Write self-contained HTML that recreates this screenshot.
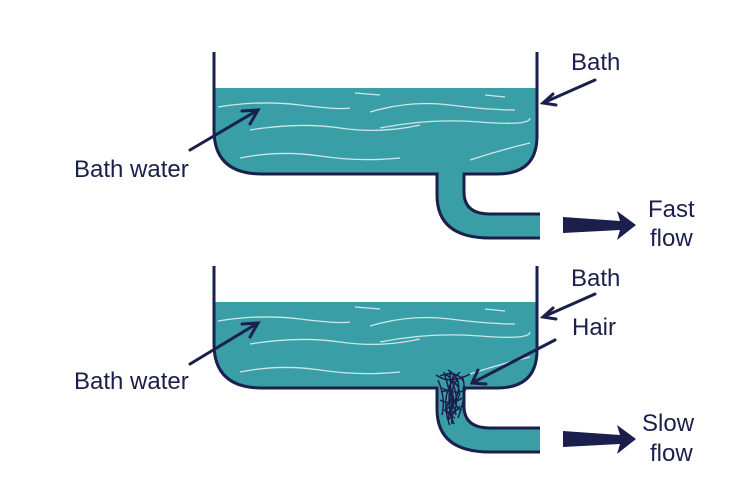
<!DOCTYPE html>
<html><head><style>html,body{margin:0;padding:0;background:#fff}svg{display:block}</style></head><body>
<svg width="750" height="500" viewBox="0 0 750 500" xmlns="http://www.w3.org/2000/svg" font-family="Liberation Sans, sans-serif" font-size="24" fill="#1b1f4b">
<defs>
<g id="bath">
  <path d="M214,88 L537,88 L537,136 Q537,174 497,174 L464,174 L464,192 Q464,214 490,214 L540,214 L540,238 L490,238 Q437,238 437,195 L437,174 L262,174 Q214,174 214,130 Z" fill="#3a9ea6"/>
  <g stroke="#e6f4f5" stroke-width="1.3" fill="none" opacity="0.85">
    <path d="M218,107 Q260,100 300,105 T350,108"/>
    <path d="M370,112 Q410,100 450,105 T515,110"/>
    <path d="M250,130 Q300,122 340,128 T420,125"/>
    <path d="M380,128 Q430,118 480,122 T530,118"/>
    <path d="M240,158 Q280,150 320,156 T400,158"/>
    <path d="M470,160 Q500,150 530,143"/>
    <path d="M355,93 L380,95"/><path d="M485,95 L505,97"/>
  </g>
  <path d="M214,52 L214,130 Q214,174 262,174 L437,174 L437,195 Q437,238 490,238 L540,238 M537,52 L537,136 Q537,174 497,174 L464,174 L464,192 Q464,214 490,214 L540,214" fill="none" stroke="#1b1f4b" stroke-width="3"/>
</g>
</defs>
<use href="#bath"/>
<use href="#bath" y="214"/>
<g stroke="#1b1f4b" stroke-width="3" fill="none" stroke-linecap="round">
  <path d="M190,150 L258,110 M242,111 L258,110 L250,124"/>
  <path d="M595,80 L543,103 M553,94 L543,103 L556,105"/>
  <path d="M190,364 L258,323 M242,324 L258,323 L250,337"/>
  <path d="M595,294 L543,317 M553,308 L543,317 L556,319"/>
  <path d="M555,340 L472,383 M478,370 L472,383 L486,384"/>
</g>
<g stroke="#1b1f4b" stroke-width="1.5" fill="none">
  <path d="M440,376 Q450,370 455,390 T448,420 M444,372 Q452,400 456,415 M448,370 Q465,380 455,400 T450,425 M460,372 Q440,390 448,420 M452,380 Q470,395 445,410 M438,380 Q446,398 442,415 M462,376 Q468,392 458,418 M446,374 Q458,372 464,382 M442,388 Q455,395 466,390 M440,400 Q452,406 462,398 M444,410 Q454,416 460,406 M450,372 L452,424 M454,374 Q444,400 454,424 M436,375 Q450,385 470,374 M447,385 Q456,392 449,402 T455,418 M441,392 Q458,386 452,410 M457,380 Q446,395 460,410"/>
</g>
<polygon points="563,217 620,221 617,211 636,225 617,240 620,230 563,233"/>
<polygon points="563,431 620,435 617,425 636,439 617,454 620,444 563,447"/>
<text x="571" y="70">Bath</text>
<text x="74" y="177">Bath water</text>
<text x="648" y="217">Fast</text>
<text x="650" y="246">flow</text>
<text x="571" y="286">Bath</text>
<text x="572" y="335">Hair</text>
<text x="74" y="389">Bath water</text>
<text x="642" y="431">Slow</text>
<text x="650" y="461">flow</text>
</svg>
</body></html>
